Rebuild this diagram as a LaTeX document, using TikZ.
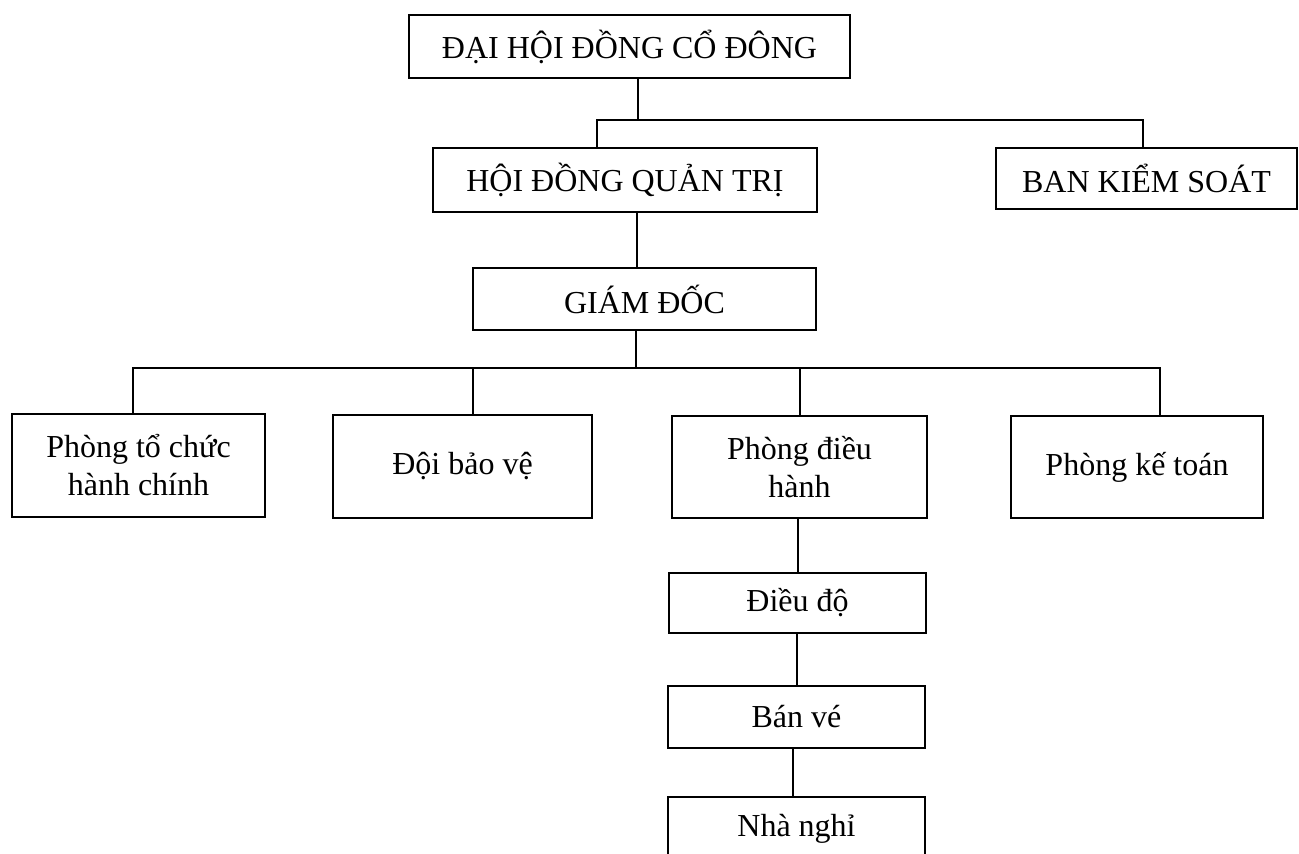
\documentclass[tikz,border=0pt]{standalone}
\usepackage{fontspec}
\setmainfont{Liberation Serif}
\begin{document}
\begin{tikzpicture}[x=1pt,y=-1pt,
  orgbox/.style={draw, line width=1.7pt, inner sep=0pt, align=center,
    font=\fontsize{32}{38}\selectfont},
  link/.style={line width=1.7pt}]
\useasboundingbox[fill=white] (0,0) rectangle (1299,854);
% boxes (centre, width, height in px)
\node[orgbox, minimum width=441pt, minimum height=63pt] (dh) at (629.5,46.5) {ĐẠI HỘI ĐỒNG CỔ ĐÔNG};
\node[orgbox, minimum width=384pt, minimum height=64pt] (hdqt) at (625,180) {HỘI ĐỒNG QUẢN TRỊ};
\node[orgbox, minimum width=301pt, minimum height=61pt] (bks) at (1146.5,178.5) {BAN KIỂM SOÁT};
\node[orgbox, minimum width=343pt, minimum height=62pt] (gd) at (644.5,299) {GIÁM ĐỐC};
\node[orgbox, minimum width=253pt, minimum height=103pt] (p1) at (138.5,465.5) {Phòng tổ chức\\hành chính};
\node[orgbox, minimum width=259pt, minimum height=103pt] (p2) at (462.5,466.5) {Đội bảo vệ};
\node[orgbox, minimum width=255pt, minimum height=102pt] (p3) at (799.5,467) {Phòng điều\\hành};
\node[orgbox, minimum width=252pt, minimum height=102pt] (p4) at (1137,467) {Phòng kế toán};
\node[orgbox, minimum width=257pt, minimum height=60pt] (dd) at (797.5,603) {Điều độ};
\node[orgbox, minimum width=257pt, minimum height=62pt] (bv) at (796.5,717) {Bán vé};
\node[orgbox, minimum width=257pt, minimum height=64pt] (nn) at (796.5,829) {Nhà nghỉ};
% junction coordinates
\coordinate (j1) at (638,120);
\coordinate (b1) at (597,120);
\coordinate (b2) at (1143,120);
\coordinate (c1) at (637,240);
\coordinate (j2) at (636,368);
\coordinate (d1) at (133,368);
\coordinate (d2) at (473,368);
\coordinate (d3) at (800,368);
\coordinate (d4) at (1160,368);
\coordinate (e1) at (798,550);
\coordinate (e2) at (797,660);
\coordinate (e3) at (793,770);
% connectors
\draw[link] (dh.south -| j1) -- (j1);
\draw[link] (hdqt.north -| b1) -- (b1) -- (b2) -- (bks.north -| b2);
\draw[link] (hdqt.south -| c1) -- (gd.north -| c1);
\draw[link] (gd.south -| j2) -- (j2);
\draw[link] (p1.north -| d1) -- (d1) -- (d4) -- (p4.north -| d4);
\draw[link] (p2.north -| d2) -- (d2);
\draw[link] (p3.north -| d3) -- (d3);
\draw[link] (p3.south -| e1) -- (dd.north -| e1);
\draw[link] (dd.south -| e2) -- (bv.north -| e2);
\draw[link] (bv.south -| e3) -- (nn.north -| e3);
\end{tikzpicture}
\end{document}
